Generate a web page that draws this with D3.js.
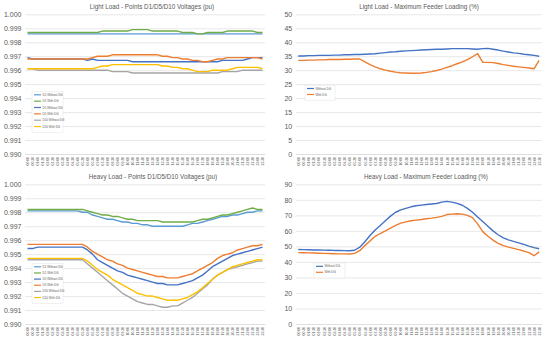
<!DOCTYPE html>
<html>
<head>
<meta charset="utf-8">
<script src="https://cdn.jsdelivr.net/npm/d3@7"></script>
<style>
  body { margin: 0; background: #fff; }
  svg { display: block; font-family: "Liberation Sans", Arial, sans-serif; }
</style>
</head>
<body>
<svg id="chart" width="550" height="341"></svg>
<script>
var times = ["00:00","00:30","01:00","01:30","02:00","02:30","03:00","03:30","04:00","04:30","05:00","05:30",
  "06:00","06:30","07:00","07:30","08:00","08:30","09:00","09:30","10:00","10:30","11:00","11:30",
  "12:00","12:30","13:00","13:30","14:00","14:30","15:00","15:30","16:00","16:30","17:00","17:30",
  "18:00","18:30","19:00","19:30","20:00","20:30","21:00","21:30","22:00","22:30","23:00","23:30"];

var voltTicks = [0.990,0.991,0.992,0.993,0.994,0.995,0.996,0.997,0.998,0.999,1.000];
var lightLoadTicks = [0,5,10,15,20,25,30,35,40,45,50];
var heavyLoadTicks = [0,10,20,30,40,50,60,70,80,90];

var voltNames = ["D1 Without DG","D1 With DG","D5 Without DG","D5 With DG","D10 Without DG","D10 With DG"];
var voltColors = ["#5B9BD5","#70AD47","#4472C4","#ED7D31","#A5A5A5","#FFC000"];
var loadNames = ["Without DG","With DG"];
var loadColors = ["#4472C4","#ED7D31"];

// light load voltages (pu)
var lightD1Without = [0.9986,0.9986,0.9986,0.9986,0.9986,0.9986,0.9986,0.9986,0.9986,0.9986,0.9986,0.9986,
  0.9986,0.9986,0.9986,0.9986,0.9986,0.9986,0.9986,0.9986,0.9986,0.9986,0.9986,0.9986,
  0.9986,0.9986,0.9986,0.9986,0.9986,0.9986,0.9986,0.9986,0.9986,0.9986,0.9986,0.9986,
  0.9986,0.9986,0.9986,0.9986,0.9986,0.9986,0.9986,0.9986,0.9986,0.9986,0.9986,0.9986];
var lightD1With = [0.9987,0.9987,0.9987,0.9987,0.9987,0.9987,0.9987,0.9987,0.9987,0.9987,0.9987,0.9987,
  0.9987,0.9987,0.9987,0.9988,0.9988,0.9988,0.9988,0.9988,0.9988,0.9989,0.9989,0.9989,
  0.9989,0.9988,0.9988,0.9988,0.9988,0.9988,0.9988,0.9987,0.9987,0.9987,0.9986,0.9986,
  0.9987,0.9987,0.9987,0.9987,0.9988,0.9988,0.9988,0.9988,0.9988,0.9988,0.9987,0.9987];
var lightD5Without = [0.9969,0.9968,0.9968,0.9968,0.9968,0.9968,0.9968,0.9968,0.9968,0.9968,0.9968,0.9968,
  0.9967,0.9968,0.9967,0.9967,0.9967,0.9967,0.9967,0.9967,0.9967,0.9966,0.9966,0.9966,
  0.9966,0.9966,0.9966,0.9966,0.9966,0.9966,0.9966,0.9966,0.9966,0.9966,0.9966,0.9966,
  0.9966,0.9966,0.9966,0.9967,0.9967,0.9967,0.9967,0.9967,0.9968,0.9969,0.9969,0.9969];
var lightD5With = [0.9968,0.9968,0.9968,0.9968,0.9968,0.9968,0.9968,0.9968,0.9968,0.9968,0.9968,0.9968,
  0.9968,0.9969,0.9970,0.9970,0.9970,0.9971,0.9971,0.9971,0.9971,0.9971,0.9971,0.9971,
  0.9971,0.9971,0.9971,0.9970,0.9970,0.9969,0.9969,0.9968,0.9968,0.9967,0.9967,0.9966,
  0.9966,0.9967,0.9968,0.9968,0.9969,0.9969,0.9969,0.9969,0.9969,0.9969,0.9969,0.9968];
var lightD10Without = [0.9961,0.9961,0.9960,0.9960,0.9960,0.9960,0.9960,0.9960,0.9960,0.9960,0.9960,0.9960,
  0.9960,0.9960,0.9960,0.9960,0.9960,0.9959,0.9959,0.9959,0.9959,0.9958,0.9958,0.9958,
  0.9958,0.9958,0.9958,0.9958,0.9958,0.9958,0.9958,0.9958,0.9958,0.9958,0.9958,0.9958,
  0.9958,0.9958,0.9958,0.9959,0.9959,0.9959,0.9959,0.9960,0.9960,0.9960,0.9960,0.9960];
var lightD10With = [0.9961,0.9961,0.9961,0.9961,0.9961,0.9961,0.9961,0.9961,0.9961,0.9961,0.9961,0.9961,
  0.9961,0.9961,0.9962,0.9963,0.9963,0.9964,0.9964,0.9964,0.9964,0.9964,0.9964,0.9964,
  0.9964,0.9964,0.9964,0.9963,0.9963,0.9962,0.9962,0.9961,0.9961,0.9960,0.9959,0.9959,
  0.9959,0.9960,0.9960,0.9960,0.9960,0.9961,0.9962,0.9962,0.9962,0.9962,0.9962,0.9961];

// light load max feeder loading (%)
var lightLoadWithout = [35.1,35.1,35.2,35.2,35.3,35.3,35.3,35.4,35.4,35.5,35.5,35.6,
  35.6,35.7,35.8,35.9,36.1,36.3,36.5,36.6,36.8,36.9,37.0,37.1,
  37.2,37.3,37.4,37.5,37.5,37.6,37.7,37.7,37.7,37.7,37.6,37.5,
  37.7,37.8,37.5,37.2,36.8,36.5,36.2,36.0,35.7,35.5,35.3,35.0];
var lightLoadWith = [33.5,33.5,33.6,33.6,33.7,33.7,33.8,33.8,33.8,33.9,33.9,34.0,
  34.0,33.0,32.0,31.2,30.5,30.0,29.6,29.3,29.1,29.0,28.9,28.9,
  29.0,29.2,29.5,29.9,30.4,31.0,31.6,32.3,33.0,33.8,34.8,35.9,
  32.8,32.8,32.7,32.4,32.0,31.7,31.4,31.2,31.0,30.8,30.5,33.5];

// heavy load voltages (pu)
var heavyD1Without = [0.9981,0.9981,0.9981,0.9981,0.9981,0.9981,0.9981,0.9981,0.9981,0.9981,0.9981,0.9980,
  0.9980,0.9978,0.9977,0.9976,0.9975,0.9975,0.9974,0.9973,0.9973,0.9972,0.9972,0.9971,
  0.9971,0.9970,0.9970,0.9970,0.9970,0.9970,0.9970,0.9970,0.9971,0.9972,0.9972,0.9973,
  0.9974,0.9975,0.9976,0.9977,0.9977,0.9978,0.9978,0.9979,0.9980,0.9980,0.9981,0.9981];
var heavyD1With = [0.9982,0.9982,0.9982,0.9982,0.9982,0.9982,0.9982,0.9982,0.9982,0.9982,0.9982,0.9982,
  0.9981,0.9980,0.9979,0.9978,0.9978,0.9977,0.9977,0.9976,0.9975,0.9975,0.9974,0.9974,
  0.9974,0.9974,0.9974,0.9973,0.9973,0.9973,0.9973,0.9973,0.9973,0.9973,0.9974,0.9975,
  0.9975,0.9976,0.9977,0.9978,0.9978,0.9979,0.9980,0.9981,0.9982,0.9983,0.9982,0.9982];
var heavyD5Without = [0.9954,0.9954,0.9955,0.9955,0.9955,0.9955,0.9955,0.9955,0.9955,0.9955,0.9955,0.9955,
  0.9953,0.9950,0.9946,0.9944,0.9942,0.9940,0.9938,0.9937,0.9935,0.9934,0.9933,0.9932,
  0.9931,0.9930,0.9929,0.9929,0.9928,0.9928,0.9928,0.9929,0.9930,0.9931,0.9933,0.9935,
  0.9938,0.9941,0.9943,0.9945,0.9947,0.9949,0.9950,0.9951,0.9952,0.9953,0.9954,0.9955];
var heavyD5With = [0.9957,0.9957,0.9957,0.9957,0.9957,0.9957,0.9957,0.9957,0.9957,0.9957,0.9957,0.9957,
  0.9955,0.9952,0.9950,0.9948,0.9946,0.9945,0.9943,0.9942,0.9940,0.9939,0.9938,0.9937,
  0.9936,0.9935,0.9934,0.9934,0.9933,0.9933,0.9933,0.9934,0.9935,0.9936,0.9938,0.9940,
  0.9942,0.9944,0.9947,0.9949,0.9950,0.9951,0.9953,0.9954,0.9955,0.9956,0.9956,0.9957];
var heavyD10Without = [0.9946,0.9946,0.9946,0.9946,0.9946,0.9946,0.9946,0.9946,0.9946,0.9946,0.9946,0.9946,
  0.9943,0.9940,0.9937,0.9934,0.9931,0.9928,0.9925,0.9922,0.9920,0.9918,0.9916,0.9915,
  0.9914,0.9914,0.9913,0.9912,0.9912,0.9913,0.9913,0.9915,0.9917,0.9919,0.9922,0.9925,
  0.9928,0.9932,0.9935,0.9937,0.9939,0.9940,0.9941,0.9942,0.9943,0.9944,0.9945,0.9945];
var heavyD10With = [0.9947,0.9947,0.9947,0.9947,0.9947,0.9947,0.9947,0.9947,0.9947,0.9947,0.9947,0.9947,
  0.9945,0.9942,0.9939,0.9937,0.9935,0.9932,0.9930,0.9928,0.9926,0.9924,0.9922,0.9921,
  0.9920,0.9920,0.9919,0.9918,0.9917,0.9917,0.9917,0.9918,0.9919,0.9921,0.9923,0.9926,
  0.9929,0.9932,0.9935,0.9937,0.9939,0.9941,0.9942,0.9943,0.9944,0.9945,0.9946,0.9946];

// heavy load max feeder loading (%)
var heavyLoadWithout = [48.0,47.9,47.8,47.7,47.7,47.6,47.5,47.4,47.4,47.3,47.2,47.5,
  49.5,53.0,57.0,60.5,63.5,66.5,69.5,72.0,73.5,74.5,75.5,76.2,
  76.6,77.0,77.3,77.6,78.5,79.0,78.5,77.7,76.5,74.5,72.0,69.0,
  66.0,63.0,60.0,57.5,55.5,54.2,53.2,52.3,51.3,50.2,49.2,48.5];
var heavyLoadWith = [46.0,45.9,45.8,45.7,45.6,45.5,45.4,45.3,45.2,45.2,45.1,45.5,
  47.2,50.5,53.5,56.5,58.3,60.0,61.8,63.5,65.0,65.8,66.5,66.9,
  67.3,67.8,68.2,68.7,69.3,70.5,70.8,71.0,70.8,70.0,68.5,64.5,
  59.5,56.5,54.0,52.0,50.5,49.5,48.7,47.9,47.0,46.0,44.0,46.5];

var svg = d3.select("#chart");

function drawPanel(p) {
  var g = svg.append("g");

  var x = d3.scalePoint()
      .domain(times)
      .range([p.left, p.right])
      .padding(0.5);
  var y = d3.scaleLinear()
      .domain([p.ticks[0], p.ticks[p.ticks.length - 1]])
      .range([p.bottom, p.top]);

  // gridlines + y labels
  var yAxis = g.append("g")
      .attr("transform", "translate(" + p.left + ",0)")
      .call(d3.axisLeft(y)
        .tickValues(p.ticks)
        .tickFormat(p.fmt)
        .tickSize(-(p.right - p.left))
        .tickPadding(3.5));
  yAxis.select(".domain").remove();
  yAxis.selectAll("line").attr("stroke", "#D9D9D9").attr("stroke-width", 0.6);
  yAxis.selectAll("text")
      .attr("fill", "#595959")
      .style("font-size", "7px")
      .attr("font-family", null);

  // x axis
  var xAxis = g.append("g")
      .attr("transform", "translate(0," + p.bottom + ")")
      .call(d3.axisBottom(x).tickSize(0).tickPadding(0));
  xAxis.select(".domain").attr("stroke", "#D9D9D9").attr("stroke-width", 0.6);
  xAxis.selectAll("text")
      .attr("fill", "#595959")
      .style("font-size", "3.4px")
      .attr("font-family", null)
      .attr("text-anchor", "end")
      .attr("dy", "0.35em")
      .attr("transform", "translate(0,3) rotate(-90)")
      .attr("x", 0)
      .attr("y", 0);

  // title
  g.append("text")
      .attr("x", p.titleX)
      .attr("y", p.top - 5.5)
      .attr("text-anchor", "middle")
      .attr("fill", "#595959")
      .style("font-size", "6.3px")
      .text(p.title);

  var line = d3.line()
      .x(function(d, i) { return x(times[i]); })
      .y(function(d) { return y(d); });

  p.series.forEach(function(s, k) {
    g.append("path")
        .datum(s)
        .attr("fill", "none")
        .attr("stroke", p.colors[k])
        .attr("stroke-width", 1.4)
        .attr("stroke-linejoin", "round")
        .attr("d", line);
  });

  // legend
  var lg = g.append("g").attr("transform", "translate(" + p.legX + "," + p.legY + ")");
  lg.append("rect")
      .attr("x", 0).attr("y", 0)
      .attr("width", p.legW)
      .attr("height", p.names.length * p.legStep + 3)
      .attr("fill", "#fff")
      .attr("stroke", "#E3E3E3")
      .attr("stroke-width", 0.5);
  p.names.forEach(function(n, k) {
    var yy = 3.3 + k * p.legStep;
    lg.append("line")
        .attr("x1", 2).attr("x2", 9)
        .attr("y1", yy).attr("y2", yy)
        .attr("stroke", p.colors[k])
        .attr("stroke-width", 1.2);
    lg.append("text")
        .attr("x", 10.5).attr("y", yy)
        .attr("dy", "0.35em")
        .attr("fill", "#595959")
        .style("font-size", "3px")
        .text(n);
  });
}

var voltFmt = d3.format(".3f");
var intFmt = d3.format("d");

drawPanel({
  title: "Light Load - Points D1/D5/D10 Voltages (pu)", titleX: 152,
  left: 25, right: 265, top: 14.3, bottom: 154,
  ticks: voltTicks, fmt: voltFmt,
  series: [lightD1Without, lightD1With, lightD5Without, lightD5With, lightD10Without, lightD10With],
  colors: voltColors, names: voltNames,
  legX: 32, legY: 91.5, legW: 31, legStep: 6.35
});

drawPanel({
  title: "Light Load - Maximum Feeder Loading (%)", titleX: 419,
  left: 295.7, right: 541.7, top: 14.3, bottom: 154,
  ticks: lightLoadTicks, fmt: intFmt,
  series: [lightLoadWithout, lightLoadWith],
  colors: loadColors, names: loadNames,
  legX: 305, legY: 85.2, legW: 30, legStep: 6
});

drawPanel({
  title: "Heavy Load - Points D1/D5/D10 Voltages (pu)", titleX: 153,
  left: 25, right: 265, top: 184.3, bottom: 324,
  ticks: voltTicks, fmt: voltFmt,
  series: [heavyD1Without, heavyD1With, heavyD5Without, heavyD5With, heavyD10Without, heavyD10With],
  colors: voltColors, names: voltNames,
  legX: 32, legY: 263.5, legW: 31, legStep: 6.15
});

drawPanel({
  title: "Heavy Load - Maximum Feeder Loading (%)", titleX: 426,
  left: 295.7, right: 541.7, top: 184.3, bottom: 324,
  ticks: heavyLoadTicks, fmt: intFmt,
  series: [heavyLoadWithout, heavyLoadWith],
  colors: loadColors, names: loadNames,
  legX: 314, legY: 263, legW: 31, legStep: 6
});
</script>
</body>
</html>
